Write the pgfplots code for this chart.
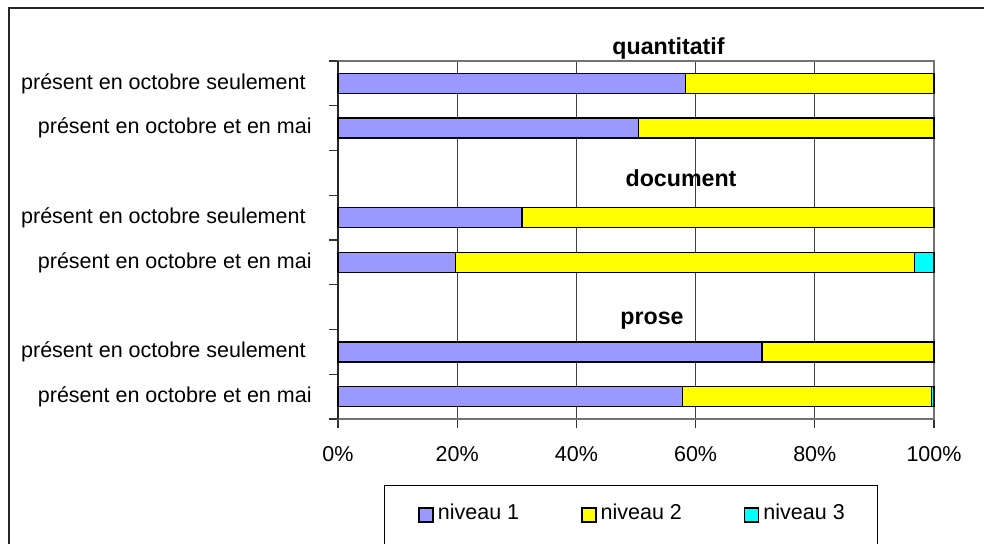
\documentclass[border=0pt]{standalone}
\usepackage{pgfplots}
\pgfplotsset{compat=1.18}
\usepackage{fontspec}
\setmainfont{Liberation Sans}
\definecolor{n1}{HTML}{9999FF}
\definecolor{n2}{HTML}{FFFF00}
\definecolor{n3}{HTML}{00FFFF}
\begin{document}
\fontsize{10.75}{13}\selectfont
\begin{tikzpicture}
\path[use as bounding box] (0,0) rectangle (492pt,272pt);
\clip (0,0) rectangle (492pt,272pt);
\draw[line width=1pt, black!85] (4.5pt,-10pt) -- (4.5pt,268pt) -- (500pt,268pt);
\draw[line width=0.5pt] (192pt,-10pt) -- (192pt,29pt) -- (438.5pt,29pt) -- (438.5pt,-10pt);
\begin{axis}[
  at={(169pt,62.5pt)}, anchor=south west,
  scale only axis, width=298pt, height=179pt,
  xbar stacked, bar width=10pt,
  xmin=0, xmax=100, ymin=-0.5, ymax=7.5, y dir=reverse,
  axis line style={black!55, line width=0.6pt},
  clip=false,
  /pgf/number format/assume math mode=true,
  xtick={0,20,...,100},
  xtick pos=bottom, ytick pos=left,
  xticklabel={\pgfmathprintnumber{\tick}\%},
  xmajorgrids, grid style={black!75, line width=0.5pt},
  tick align=outside, major tick length=4.5pt,
  tick style={black!80, line width=0.6pt},
  ytick={-0.5,0.5,...,7.5}, yticklabels={},
  extra y ticks={0,1,3,4,6,7},
  extra y tick labels={présent en octobre seulement\kern3pt,présent en octobre et en mai,présent en octobre seulement\kern3pt,présent en octobre et en mai,présent en octobre seulement\kern3pt,présent en octobre et en mai},
  extra y tick style={tick style={draw=none}},
  yticklabel style={anchor=east, inner sep=0pt, xshift=-8.5pt},
  xticklabel style={anchor=base, inner sep=0pt, yshift=-16.5pt},
  legend columns=3,
  legend style={at={(0.1342,-0.2626)}, anchor=west, draw=none, fill=none, inner sep=0pt,
    /tikz/every even column/.append style={column sep=29pt}},
  legend image code/.code={\draw[#1, line width=0.75pt] (0pt,-4.5pt) rectangle (7pt,2.5pt);},
]
\addplot[fill=n1, draw=black, line width=0.75pt] coordinates {(58.3,0) (50.4,1) (30.9,3) (19.7,4) (71.1,6) (57.8,7)};
\addplot[fill=n2, draw=black, line width=0.75pt] coordinates {(41.7,0) (49.6,1) (69.1,3) (77.0,4) (28.9,6) (41.8,7)};
\addplot[fill=n3, draw=black, line width=0.75pt] coordinates {(0,0) (0,1) (0,3) (3.3,4) (0,6) (0.4,7)};
\legend{niveau 1, niveau 2, niveau 3}
\draw[black!85, line width=0.6pt] (rel axis cs:0,0) -- (rel axis cs:0,1);
\node[font=\fontsize{11.6}{13}\bfseries\selectfont, anchor=base, inner sep=0pt] at (axis cs:55.45,-0.656) {quantitatif};
\node[font=\fontsize{11.6}{13}\bfseries\selectfont, anchor=base, inner sep=0pt] at (axis cs:57.55,2.309) {document};
\node[font=\fontsize{11.6}{13}\bfseries\selectfont, anchor=base, inner sep=0pt] at (axis cs:52.68,5.399) {prose};
\end{axis}
\end{tikzpicture}
\end{document}
